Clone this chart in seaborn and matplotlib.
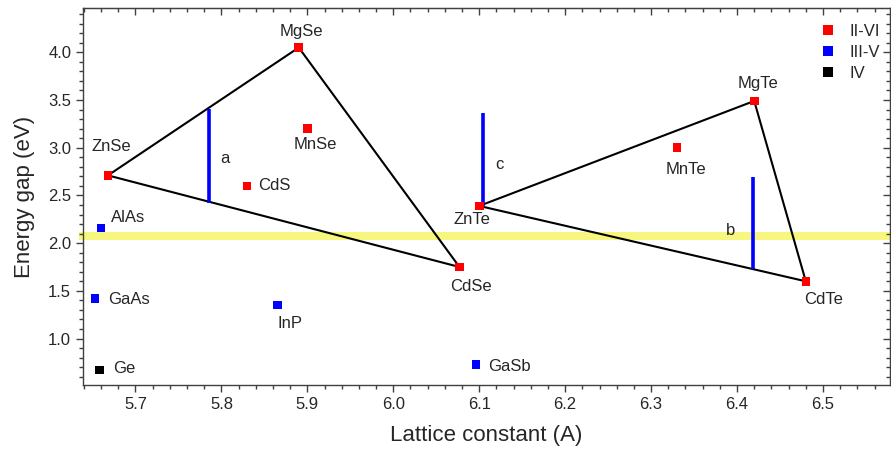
import numpy as np
import pandas as pd
import seaborn as sns
import matplotlib.pyplot as plt
from matplotlib.ticker import MultipleLocator

# data
compounds = ["MgSe", "ZnSe", "CdSe", "MnSe", "CdS", "ZnTe", "MgTe", "MnTe", "CdTe",
             "AlAs", "GaAs", "InP", "GaSb", "Ge"]
lattice = [5.89, 5.668, 6.077, 5.90, 5.83, 6.10, 6.42, 6.33, 6.48,
           5.66, 5.653, 5.865, 6.096, 5.658]
gap = [4.05, 2.71, 1.75, 3.20, 2.60, 2.39, 3.49, 3.00, 1.60,
       2.16, 1.42, 1.35, 0.73, 0.67]
group = ["II-VI"] * 9 + ["III-V"] * 4 + ["IV"]

se_triangle = ["ZnSe", "MgSe", "CdSe"]
te_triangle = ["ZnTe", "MgTe", "CdTe"]

bar_names = ["a", "b", "c"]
bar_x = [5.785, 6.418, 6.104]
bar_lo = [2.425, 1.73, 2.39]
bar_hi = [3.41, 2.69, 3.36]

band_lo, band_hi = 2.03, 2.12

df = pd.DataFrame({"compound": compounds, "a": lattice, "Eg": gap, "group": group})

sns.set_style("ticks")
plt.rcParams['font.family'] = ['Liberation Sans', 'DejaVu Sans']

fig = plt.figure(figsize=(8.91, 4.49), dpi=100)
ax = fig.add_axes([0.0932, 0.1425, 0.9057, 0.8396])

ax.axhspan(band_lo, band_hi, xmin=-0.005, xmax=1.002, color="#f7f77f", lw=0,
           clip_on=False, zorder=0)

# triangles
pos = df.set_index("compound")
for tri in (se_triangle, te_triangle):
    pts = pos.loc[tri + tri[:1]]
    ax.plot(pts["a"], pts["Eg"], color="black", lw=1.5, zorder=2)

ax.vlines(bar_x, bar_lo, bar_hi, color="#0000ff", lw=2.6, zorder=2)
bar_off = {"a": (16, -3), "b": (-22, -7), "c": (17, -5)}
for n, x, lo, hi in zip(bar_names, bar_x, bar_lo, bar_hi):
    ax.annotate(n, (x, (lo + hi) / 2), xytext=bar_off[n], textcoords="offset pixels",
                ha="center", va="center", fontsize=12)

sns.scatterplot(data=df, x="a", y="Eg", hue="group", marker="s", s=38, linewidth=0,
                palette={"II-VI": "#ff0000", "III-V": "#0000ff", "IV": "#000000"},
                ax=ax, zorder=3)

# label offsets in pixels: (dx, dy, ha)
label_off = {
    "MgSe": (3, 16, "center"), "ZnSe": (3, 29, "center"), "CdSe": (11, -20, "center"),
    "MnSe": (8, -16, "center"), "CdS": (11, 0, "left"), "ZnTe": (-7, -14, "center"),
    "MgTe": (4, 17, "center"), "MnTe": (9, -22, "center"), "CdTe": (18, -18, "center"),
    "AlAs": (10, 10, "left"), "GaAs": (13, -1, "left"), "InP": (13, -18, "center"),
    "GaSb": (12, -2, "left"), "Ge": (14, 2, "left"),
}
for c, x, y in zip(compounds, lattice, gap):
    dx, dy, ha = label_off[c]
    ax.annotate(c, (x, y), xytext=(dx, dy), textcoords="offset pixels",
                ha=ha, va="center", fontsize=12)

ax.set_xlim(5.639, 6.578)
ax.set_ylim(0.513, 4.464)
ax.xaxis.set_major_locator(MultipleLocator(0.1))
ax.xaxis.set_minor_locator(MultipleLocator(0.02))
ax.yaxis.set_major_locator(MultipleLocator(0.5))
ax.yaxis.set_minor_locator(MultipleLocator(0.1))
ax.tick_params(which="major", length=5, width=1, color="#404040", labelsize=12, direction="out")
ax.tick_params(which="minor", length=3, width=1, color="#404040", direction="out")
ax.set_xlabel("Lattice constant (A)", fontsize=16, labelpad=9.5)
ax.set_ylabel("Energy gap (eV)", fontsize=16, labelpad=9.5)

for s in ax.spines.values():
    s.set_color("#404040")
    s.set_linewidth(1)

secx = ax.secondary_xaxis("top")
secx.xaxis.set_major_locator(MultipleLocator(0.1))
secx.xaxis.set_minor_locator(MultipleLocator(0.02))
secx.tick_params(which="both", direction="in", labeltop=False, color="#404040", width=1)
secx.tick_params(which="major", length=5)
secx.tick_params(which="minor", length=3)
secx.spines["top"].set_color("#404040")

secy = ax.secondary_yaxis("right")
secy.yaxis.set_major_locator(MultipleLocator(0.5))
secy.yaxis.set_minor_locator(MultipleLocator(0.1))
secy.tick_params(which="both", direction="in", labelright=False, color="#404040", width=1)
secy.tick_params(which="major", length=5)
secy.tick_params(which="minor", length=3)
secy.spines["right"].set_color("#404040")

handles, labels = ax.get_legend_handles_labels()
ax.legend(handles, labels, loc="upper left", bbox_to_anchor=(0.913, 0.958), frameon=False,
          fontsize=12, handlelength=1.0, handletextpad=0.76, labelspacing=0.35,
          borderpad=0, borderaxespad=0, markerscale=1.15)

fig.savefig("out.png", dpi=100)
